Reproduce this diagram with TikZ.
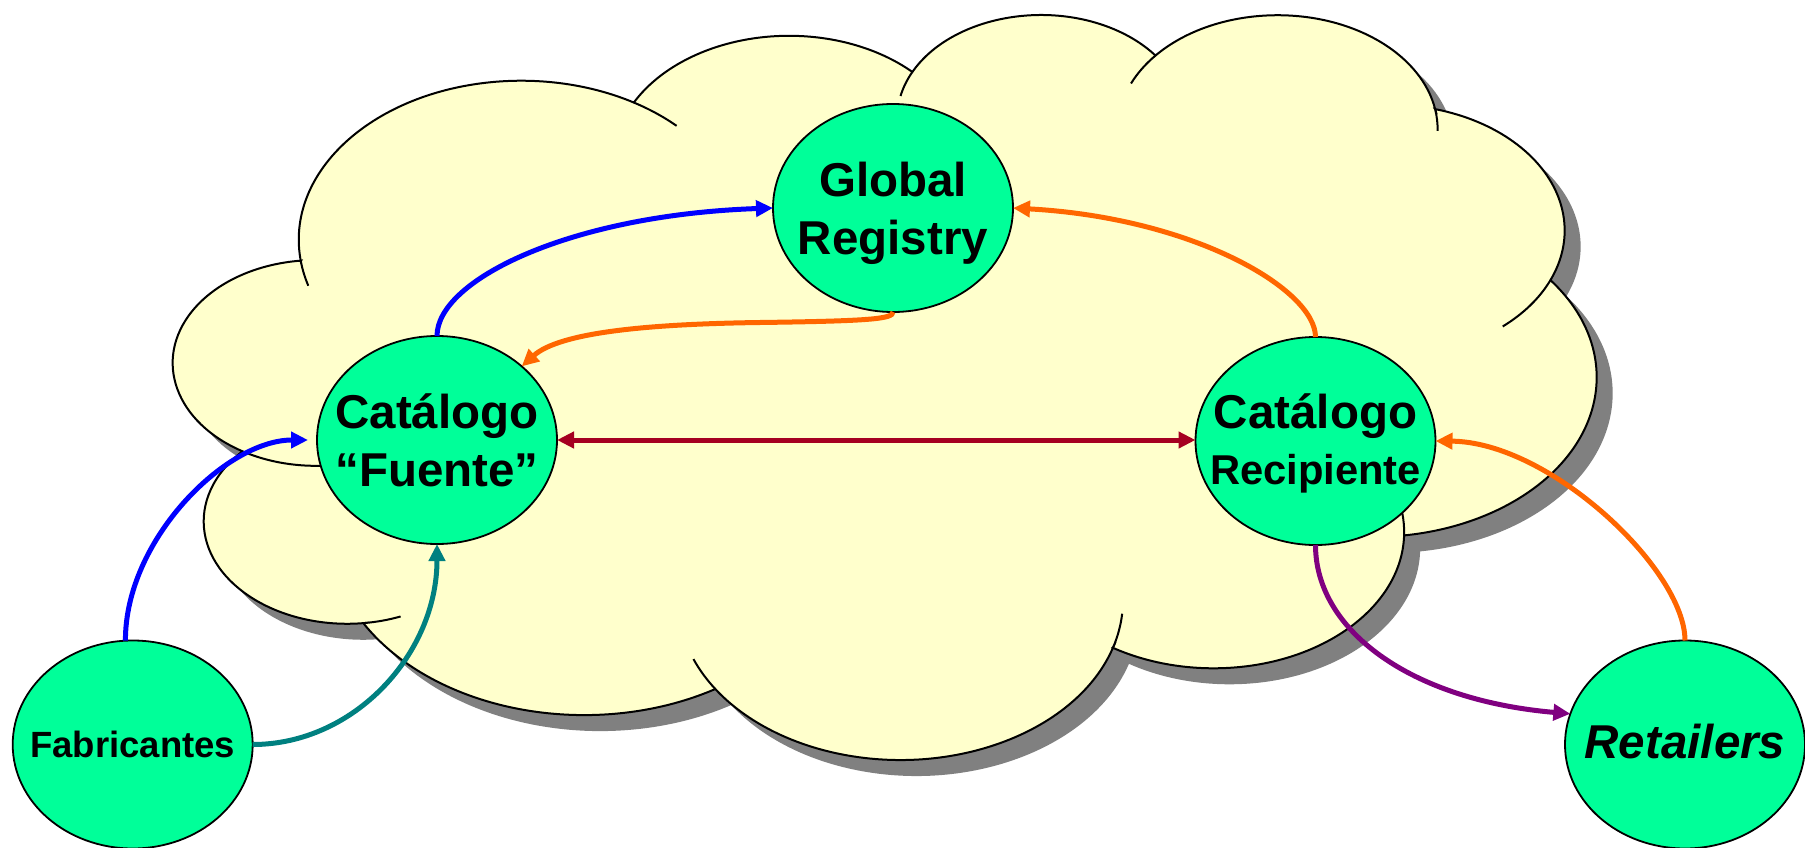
\documentclass[tikz,border=0pt]{standalone}
\usepackage{fontspec}
\setmainfont{Liberation Sans}
\usetikzlibrary{arrows.meta,shapes.geometric,calc}
\definecolor{cloudfill}{HTML}{FFFFCC}
\definecolor{nodefill}{HTML}{00FF99}
\definecolor{shadowgray}{HTML}{808080}
\definecolor{cblue}{HTML}{0000FF}
\definecolor{corange}{HTML}{FF6600}
\definecolor{cdarkred}{HTML}{A50021}
\definecolor{cpurple}{HTML}{800080}
\definecolor{cteal}{HTML}{008080}
\begin{document}
\begin{tikzpicture}[x=1pt,y=-1pt,
  ell/.style={ellipse, draw=black, line width=1.8pt, fill=nodefill,
    minimum width=240pt, minimum height=208pt, inner sep=0pt, outer sep=0pt},
  lbl/.style={align=center, inner sep=0pt, text=black,
    font=\bfseries\fontsize{47.5}{58}\selectfont},
  conn/.style={line width=5pt, -{Triangle[length=17pt,width=16pt]}},
  cloudline/.style={draw=black, line width=2pt},
  cloudscope/.style={shift={(172.3,12.5)}, x=32.954pt, y=-17.306pt}]
\useasboundingbox (0,0) rectangle (1805,848);
\fill[white] (0,0) rectangle (1805,848);
\def\cloudpath{
 ($(10.591,13.131)+(187.746:222.54pt and 159.04pt)$) arc[start angle=187.746, end angle=59.63, x radius=222.54pt, y radius=159.04pt]
 -- ($(18.715,8.612)+(152.02:175.74pt and 125.76pt)$) arc[start angle=152.02, end angle=45.44, x radius=175.74pt, y radius=125.76pt]
 -- ($(26.363,6.0895)+(153.48:143.84pt and 102.88pt)$) arc[start angle=153.48, end angle=37.32, x radius=143.84pt, y radius=102.88pt]
 -- ($(33.540,6.752)+(139.70:160.06pt and 114.13pt)$) arc[start angle=139.70, end angle=10.21, x radius=160.06pt, y radius=114.13pt]
 -- ($(36.919,12.600)+(74.77:175.74pt and 125.87pt)$) arc[start angle=74.77, end angle=-23.21, x radius=175.74pt, y radius=125.87pt]
 -- ($(36.448,21.083)+(37.53:223.26pt and 159.56pt)$) arc[start angle=37.53, end angle=-82.08, x radius=223.26pt, y radius=159.56pt]
 -- ($(31.596,30.027)+(-0.46:190.64pt and 136.15pt)$) arc[start angle=-0.46, end angle=-121.98, x radius=190.64pt, y radius=136.15pt]
 -- ($(22.095,33.979)+(-16.85:222.51pt and 159.47pt)$) arc[start angle=-16.85, end angle=-146.23, x radius=222.51pt, y radius=159.47pt]
 -- ($(12.500,30.055)+(-58.98:254.40pt and 182.46pt)$) arc[start angle=-58.98, end angle=-150.19, x radius=254.40pt, y radius=182.46pt]
 -- ($(5.312,29.403)+(-83.31:143.68pt and 102.42pt)$) arc[start angle=-83.31, end angle=-223.14, x radius=143.68pt, y radius=102.42pt]
 -- ($(4.356,20.250)+(-120.36:143.19pt and 102.88pt)$) arc[start angle=-120.36, end angle=-264.11, x radius=143.19pt, y radius=102.88pt]
 -- cycle}
% shadow
\begin{scope}[shift={(16,16)}]
 \begin{scope}[cloudscope]
  \fill[shadowgray] \cloudpath;
 \end{scope}
\end{scope}
% cloud
\begin{scope}[cloudscope]
 \path[fill=cloudfill, cloudline] \cloudpath;
 \draw[cloudline]
  ($(4.356,20.250)+(-85.55:143.19pt and 102.88pt)$) arc[start angle=-85.55, end angle=-120.36, x radius=143.19pt, y radius=102.88pt]
  ($(5.312,29.403)+(-68.24:143.68pt and 102.42pt)$) arc[start angle=-68.24, end angle=-83.31, x radius=143.68pt, y radius=102.42pt]
  ($(22.095,33.979)+(-146.23:222.51pt and 159.47pt)$) arc[start angle=-146.23, end angle=-158.47, x radius=222.51pt, y radius=159.47pt]
  ($(22.095,33.979)+(-4.737:222.51pt and 159.47pt)$) arc[start angle=-4.737, end angle=-16.85, x radius=222.51pt, y radius=159.47pt]
  ($(31.596,30.027)+(64.04:190.64pt and 136.15pt)$) arc[start angle=64.04, end angle=-0.46, x radius=190.64pt, y radius=136.15pt]
  ($(36.919,12.600)+(-23.21:175.74pt and 125.87pt)$) arc[start angle=-23.21, end angle=-49.64, x radius=175.74pt, y radius=125.87pt]
  ($(33.540,6.752)+(10.21:160.06pt and 114.13pt)$) arc[start angle=10.21, end angle=-0.82, x radius=160.06pt, y radius=114.13pt]
  ($(33.540,6.752)+(156.29:160.06pt and 114.13pt)$) arc[start angle=156.29, end angle=139.70, x radius=160.06pt, y radius=114.13pt]
  ($(26.363,6.0895)+(167.72:143.84pt and 102.88pt)$) arc[start angle=167.72, end angle=153.48, x radius=143.84pt, y radius=102.88pt]
  ($(10.591,13.131)+(59.63:222.54pt and 159.04pt)$) arc[start angle=59.63, end angle=45.74, x radius=222.54pt, y radius=159.04pt]
  ($(10.591,13.131)+(-163.19:222.54pt and 159.04pt)$) arc[start angle=-163.19, end angle=-172.25, x radius=222.54pt, y radius=159.04pt];
\end{scope}
% nodes
\node[ell] (gr) at (893,208) {};
\node[ell] (src) at (437,440) {};
\node[ell] (rcp) at (1315.5,441) {};
\node[ell] (fab) at (132.7,744.5) {};
\node[ell] (ret) at (1685,744.5) {};
\node[lbl] (grt) at ([yshift=-5pt]gr.center) {Global\\Registry};
\node[lbl] (srct) at (src.center) {Catálogo\\“Fuente”};
\node[lbl, font=\bfseries\fontsize{47.5}{56}\selectfont] (rcpt) at ([yshift=-2pt]rcp.center) {Catálogo\\{\fontsize{41.7}{50}\selectfont Recipiente}};
\node[lbl, font=\bfseries\fontsize{36.5}{44}\selectfont] (fabt) at (fab.center) {Fabricantes};
\node[lbl, font=\bfseries\itshape\fontsize{47.5}{57}\selectfont] (rett) at ([yshift=2.5pt]ret.center) {Retailers};
% connectors
\draw[conn, cblue] (src.north) .. controls (437,280) and (570,215) .. (gr.west);
\draw[conn, corange] (gr.south) .. controls (893,319) and (870,321) .. (760,322.5) .. controls (650,324) and (560,332) .. (src.41.3);
\draw[conn, corange] (rcp.north) .. controls (1315.5,290) and (1195,218) .. (gr.east);
\draw[conn, cdarkred, {Triangle[length=17pt,width=16pt]}-{Triangle[length=17pt,width=16pt]}] (src.east) -- (src.east -| rcp.west);
\draw[conn, corange] (ret.north) .. controls (1685,570) and (1550,442) .. (rcp.east);
\draw[conn, cpurple] (rcp.south) .. controls (1315.5,630) and (1410,700) .. (ret.165);
\draw[conn, cblue, shorten >=9pt] (fab.94) .. controls (125,540) and (226,440) .. (src.west);
\draw[conn, cteal] (fab.east) .. controls (354,744.5) and (437,654) .. (src.south);
\end{tikzpicture}
\end{document}
